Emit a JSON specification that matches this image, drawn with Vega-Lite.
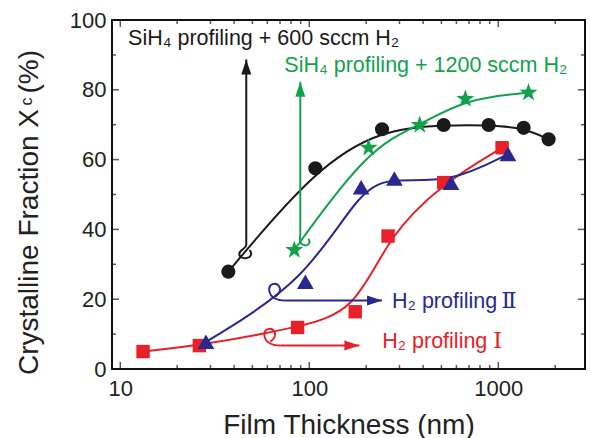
{
  "$schema": "https://vega.github.io/schema/vega-lite/v6.json",
  "width": 473,
  "height": 349,
  "autosize": {"type": "none"},
  "padding": {"left": 112, "top": 20, "right": 5, "bottom": 69},
  "background": "white",
  "title": {
    "text": "c",
    "orient": "left",
    "anchor": "middle",
    "font": "Liberation Sans",
    "fontSize": 16,
    "fontWeight": "normal",
    "color": "#222222",
    "baseline": "alphabetic",
    "offset": -33,
    "dx": 93
  },
  "config": {
    "font": "Liberation Sans",
    "view": {"stroke": "#111111", "strokeWidth": 2},
    "axis": {
      "grid": false,
      "domain": false,
      "ticks": false,
      "labelFont": "Liberation Sans",
      "labelFontSize": 22,
      "labelColor": "#222222",
      "titleFont": "Liberation Sans",
      "titleFontSize": 28,
      "titleFontWeight": "normal",
      "titleColor": "#222222"
    }
  },
  "datasets": {
    "points": [
      {"series": "SiH4 + 600 sccm H2", "t": 37.3, "xc": 27.9},
      {"series": "SiH4 + 600 sccm H2", "t": 107.6, "xc": 57.5},
      {"series": "SiH4 + 600 sccm H2", "t": 242.6, "xc": 68.7},
      {"series": "SiH4 + 600 sccm H2", "t": 514, "xc": 69.9},
      {"series": "SiH4 + 600 sccm H2", "t": 889, "xc": 69.9},
      {"series": "SiH4 + 600 sccm H2", "t": 1361, "xc": 69.1},
      {"series": "SiH4 + 600 sccm H2", "t": 1845, "xc": 65.8},
      {"series": "SiH4 + 1200 sccm H2", "t": 83.3, "xc": 34.1},
      {"series": "SiH4 + 1200 sccm H2", "t": 206, "xc": 63.4},
      {"series": "SiH4 + 1200 sccm H2", "t": 384, "xc": 69.9},
      {"series": "SiH4 + 1200 sccm H2", "t": 669, "xc": 77.4},
      {"series": "SiH4 + 1200 sccm H2", "t": 1445, "xc": 79.2},
      {"series": "H2 profiling I", "t": 13.2, "xc": 5.0},
      {"series": "H2 profiling I", "t": 26.2, "xc": 6.7},
      {"series": "H2 profiling I", "t": 86.7, "xc": 11.9},
      {"series": "H2 profiling I", "t": 175, "xc": 16.4},
      {"series": "H2 profiling I", "t": 261, "xc": 38.1},
      {"series": "H2 profiling I", "t": 514, "xc": 53.4},
      {"series": "H2 profiling I", "t": 1047, "xc": 63.4},
      {"series": "H2 profiling II", "t": 28.4, "xc": 7.8},
      {"series": "H2 profiling II", "t": 95.3, "xc": 25.0},
      {"series": "H2 profiling II", "t": 188, "xc": 52.1},
      {"series": "H2 profiling II", "t": 282, "xc": 54.6},
      {"series": "H2 profiling II", "t": 562, "xc": 53.4},
      {"series": "H2 profiling II", "t": 1125, "xc": 61.6}
    ],
    "arrows": [
      {"series": "SiH4 + 600 sccm H2", "dir": "up", "hook": "left", "t": 46.4, "t2": 46.4, "xc": 35.5, "xc2": 88.7},
      {"series": "SiH4 + 1200 sccm H2", "dir": "up", "hook": "right", "t": 89.6, "t2": 89.6, "xc": 39.0, "xc2": 82.3},
      {"series": "H2 profiling II", "dir": "right", "hook": "loop", "t": 74.6, "t2": 242.6, "xc": 19.6, "xc2": 19.6},
      {"series": "H2 profiling I", "dir": "right", "hook": "loop", "t": 70.3, "t2": 184, "xc": 6.7, "xc2": 6.7}
    ],
    "notes": [
      {"series": "SiH4 + 600 sccm H2", "t": 11.0, "xc": 92.8, "label": "SiH₄ profiling + 600 sccm H₂"},
      {"series": "SiH4 + 1200 sccm H2", "t": 73.8, "xc": 85.2, "label": "SiH₄ profiling + 1200 sccm H₂"},
      {"series": "H2 profiling II", "t": 274, "xc": 17.5, "label": "H₂ profiling"},
      {"series": "H2 profiling I", "t": 243, "xc": 5.9, "label": "H₂ profiling"}
    ],
    "numerals": [
      {"series": "H2 profiling II", "t": 1040, "xc": 17.5, "label": "Ⅱ"},
      {"series": "H2 profiling I", "t": 940, "xc": 5.9, "label": "Ⅰ"}
    ],
    "xticks": [
      {"t": 10, "kind": "major"}, {"t": 20, "kind": "minor"}, {"t": 30, "kind": "minor"}, {"t": 40, "kind": "minor"},
      {"t": 50, "kind": "minor"}, {"t": 60, "kind": "minor"}, {"t": 70, "kind": "minor"}, {"t": 80, "kind": "minor"},
      {"t": 90, "kind": "minor"}, {"t": 100, "kind": "major"}, {"t": 200, "kind": "minor"}, {"t": 300, "kind": "minor"},
      {"t": 400, "kind": "minor"}, {"t": 500, "kind": "minor"}, {"t": 600, "kind": "minor"}, {"t": 700, "kind": "minor"},
      {"t": 800, "kind": "minor"}, {"t": 900, "kind": "minor"}, {"t": 1000, "kind": "major"}, {"t": 2000, "kind": "minor"}
    ],
    "yticks": [
      {"xc": 0, "kind": "major"}, {"xc": 10, "kind": "minor"}, {"xc": 20, "kind": "major"}, {"xc": 30, "kind": "minor"},
      {"xc": 40, "kind": "major"}, {"xc": 50, "kind": "minor"}, {"xc": 60, "kind": "major"}, {"xc": 70, "kind": "minor"},
      {"xc": 80, "kind": "major"}, {"xc": 90, "kind": "minor"}, {"xc": 100, "kind": "major"}
    ]
  },
  "layer": [
    {
      "data": {"name": "points"},
      "mark": {"type": "line", "interpolate": "basis", "strokeWidth": 2},
      "encoding": {
        "x": {
          "field": "t", "type": "quantitative",
          "scale": {"type": "log", "domain": [9.04, 2875], "nice": false},
          "axis": {
            "orient": "bottom",
            "values": [10, 100, 1000],
            "format": "d",
            "labelPadding": 9,
            "title": "Film Thickness (nm)",
            "titleBaseline": "alphabetic",
            "titleY": 64
          }
        },
        "y": {
          "field": "xc", "type": "quantitative",
          "scale": {"domain": [0, 100], "nice": false, "zero": false},
          "axis": {
            "orient": "left",
            "values": [0, 20, 40, 60, 80, 100],
            "format": "d",
            "labelPadding": 6,
            "title": "Crystalline Fraction X\u00a0\u00a0(%)",
            "titleAngle": -90,
            "titleAlign": "center",
            "titleBaseline": "alphabetic",
            "titleX": -75,
            "titleY": 192
          }
        },
        "color": {
          "field": "series", "type": "nominal", "legend": null,
          "scale": {"domain": ["SiH4 + 600 sccm H2", "SiH4 + 1200 sccm H2", "H2 profiling I", "H2 profiling II"], "range": ["#1a1a1a", "#13a24c", "#e8202a", "#28288f"]}
        },
        "detail": {"field": "series", "type": "nominal"}
      }
    },
    {
      "data": {"name": "arrows"},
      "mark": {"type": "rule", "strokeWidth": 2},
      "encoding": {
        "x": {"field": "t", "type": "quantitative"},
        "x2": {"field": "t2"},
        "y": {"field": "xc", "type": "quantitative"},
        "y2": {"field": "xc2"},
        "color": {"field": "series", "type": "nominal", "legend": null}
      }
    },
    {
      "data": {"name": "arrows"},
      "transform": [{"filter": "datum.dir == 'up'"}],
      "mark": {"type": "point", "shape": "M0,0L5,15L-5,15Z", "filled": true, "opacity": 1, "size": 4, "strokeWidth": 0},
      "encoding": {
        "x": {"field": "t2", "type": "quantitative"},
        "y": {"field": "xc2", "type": "quantitative"},
        "color": {"field": "series", "type": "nominal", "legend": null}
      }
    },
    {
      "data": {"name": "arrows"},
      "transform": [{"filter": "datum.dir == 'right'"}],
      "mark": {"type": "point", "shape": "M0,0L-15,-5L-15,5Z", "filled": true, "opacity": 1, "size": 4, "strokeWidth": 0},
      "encoding": {
        "x": {"field": "t2", "type": "quantitative"},
        "y": {"field": "xc2", "type": "quantitative"},
        "color": {"field": "series", "type": "nominal", "legend": null}
      }
    },
    {
      "data": {"name": "arrows"},
      "transform": [{"filter": "datum.hook == 'left'"}],
      "mark": {"type": "point", "shape": "M0,0C0,4 -7,4 -7,9C-7,13 -1,14 3,12C6,10 5,6 3,5", "filled": false, "opacity": 1, "size": 4, "strokeWidth": 2},
      "encoding": {
        "x": {"field": "t", "type": "quantitative"},
        "y": {"field": "xc", "type": "quantitative"},
        "color": {"field": "series", "type": "nominal", "legend": null}
      }
    },
    {
      "data": {"name": "arrows"},
      "transform": [{"filter": "datum.hook == 'right'"}],
      "mark": {"type": "point", "shape": "M0,0C0,5 -2,10 3,12C8,14 11,9 8,6", "filled": false, "opacity": 1, "size": 4, "strokeWidth": 2},
      "encoding": {
        "x": {"field": "t", "type": "quantitative"},
        "y": {"field": "xc", "type": "quantitative"},
        "color": {"field": "series", "type": "nominal", "legend": null}
      }
    },
    {
      "data": {"name": "arrows"},
      "transform": [{"filter": "datum.hook == 'loop'"}],
      "mark": {"type": "point", "shape": "M0,0C-8,0 -15,-3 -16,-10C-17,-17 -9,-19 -6,-14C-4,-11 -6,-7 -10,-4", "filled": false, "opacity": 1, "size": 4, "strokeWidth": 2},
      "encoding": {
        "x": {"field": "t", "type": "quantitative"},
        "y": {"field": "xc", "type": "quantitative"},
        "color": {"field": "series", "type": "nominal", "legend": null}
      }
    },
    {
      "data": {"name": "points"},
      "transform": [{"filter": "datum.series == 'SiH4 + 600 sccm H2'"}],
      "mark": {"type": "point", "shape": "circle", "filled": true, "opacity": 1, "size": 200, "strokeWidth": 0},
      "encoding": {
        "x": {"field": "t", "type": "quantitative"},
        "y": {"field": "xc", "type": "quantitative"},
        "color": {"field": "series", "type": "nominal", "legend": null}
      }
    },
    {
      "data": {"name": "points"},
      "transform": [{"filter": "datum.series == 'SiH4 + 1200 sccm H2'"}],
      "mark": {"type": "point", "shape": "M0,-1L0.235,-0.324L0.951,-0.309L0.38,0.124L0.588,0.809L0,0.4L-0.588,0.809L-0.38,0.124L-0.951,-0.309L-0.235,-0.324Z", "filled": true, "opacity": 1, "size": 360, "strokeWidth": 0},
      "encoding": {
        "x": {"field": "t", "type": "quantitative"},
        "y": {"field": "xc", "type": "quantitative"},
        "color": {"field": "series", "type": "nominal", "legend": null}
      }
    },
    {
      "data": {"name": "points"},
      "transform": [{"filter": "datum.series == 'H2 profiling I'"}],
      "mark": {"type": "point", "shape": "square", "filled": true, "opacity": 1, "size": 180, "strokeWidth": 0},
      "encoding": {
        "x": {"field": "t", "type": "quantitative"},
        "y": {"field": "xc", "type": "quantitative"},
        "color": {"field": "series", "type": "nominal", "legend": null}
      }
    },
    {
      "data": {"name": "points"},
      "transform": [{"filter": "datum.series == 'H2 profiling II'"}],
      "mark": {"type": "point", "shape": "triangle-up", "filled": true, "opacity": 1, "size": 280, "strokeWidth": 0},
      "encoding": {
        "x": {"field": "t", "type": "quantitative"},
        "y": {"field": "xc", "type": "quantitative"},
        "color": {"field": "series", "type": "nominal", "legend": null}
      }
    },
    {
      "data": {"name": "notes"},
      "mark": {"type": "text", "align": "left", "baseline": "alphabetic", "fontSize": 21.5, "font": "Liberation Sans"},
      "encoding": {
        "x": {"field": "t", "type": "quantitative"},
        "y": {"field": "xc", "type": "quantitative"},
        "text": {"field": "label"},
        "color": {"field": "series", "type": "nominal", "legend": null}
      }
    },
    {
      "data": {"name": "numerals"},
      "mark": {"type": "text", "align": "left", "baseline": "alphabetic", "fontSize": 22, "font": "DejaVu Serif"},
      "encoding": {
        "x": {"field": "t", "type": "quantitative"},
        "y": {"field": "xc", "type": "quantitative"},
        "text": {"field": "label"},
        "color": {"field": "series", "type": "nominal", "legend": null}
      }
    },
    {
      "data": {"name": "xticks"},
      "mark": {"type": "tick", "orient": "vertical", "clip": true, "color": "#111111", "thickness": 1.5},
      "encoding": {
        "x": {"field": "t", "type": "quantitative"},
        "y": {"datum": 0},
        "size": {"field": "kind", "type": "nominal", "legend": null, "scale": {"domain": ["major", "minor"], "range": [14, 8]}}
      }
    },
    {
      "data": {"name": "xticks"},
      "mark": {"type": "tick", "orient": "vertical", "clip": true, "color": "#111111", "thickness": 1.5},
      "encoding": {
        "x": {"field": "t", "type": "quantitative"},
        "y": {"datum": 100},
        "size": {"field": "kind", "type": "nominal", "legend": null}
      }
    },
    {
      "data": {"name": "yticks"},
      "mark": {"type": "tick", "orient": "horizontal", "clip": true, "color": "#111111", "thickness": 1.5},
      "encoding": {
        "y": {"field": "xc", "type": "quantitative"},
        "x": {"datum": 9.04},
        "size": {"field": "kind", "type": "nominal", "legend": null}
      }
    },
    {
      "data": {"name": "yticks"},
      "mark": {"type": "tick", "orient": "horizontal", "clip": true, "color": "#111111", "thickness": 1.5},
      "encoding": {
        "y": {"field": "xc", "type": "quantitative"},
        "x": {"datum": 2875},
        "size": {"field": "kind", "type": "nominal", "legend": null}
      }
    }
  ]
}
